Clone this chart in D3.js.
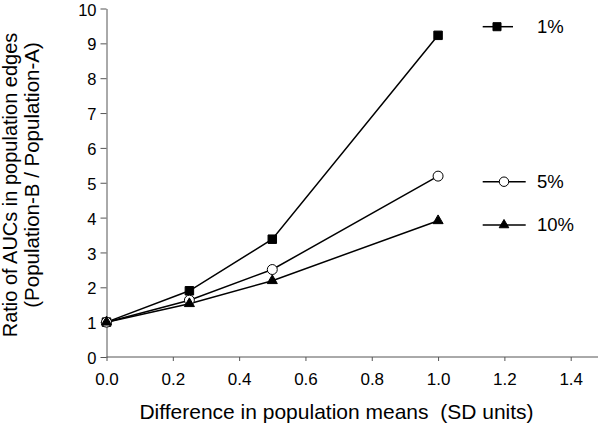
<!DOCTYPE html>
<html>
<head>
<meta charset="utf-8">
<script src="https://cdn.jsdelivr.net/npm/d3@7"></script>
<style>
  body { margin: 0; background: #fff; }
  svg { display: block; font-family: "Liberation Sans", Arial, sans-serif; }
</style>
</head>
<body>
<div id="chart"></div>
<script>
var xValues = [0, 0.25, 0.5, 1.0];
var series1 = [1, 1.9, 3.38, 9.23];   // 1%
var series5 = [1, 1.63, 2.51, 5.19];  // 5%
var series10 = [1, 1.53, 2.19, 3.91]; // 10%
var seriesNames = ["1%", "5%", "10%"];
var xTicks = [0, 0.2, 0.4, 0.6, 0.8, 1.0, 1.2, 1.4];
var yTicks = [0, 1, 2, 3, 4, 5, 6, 7, 8, 9, 10];

var width = 600, height = 425;
var svg = d3.select('#chart').append('svg').attr('width', width).attr('height', height);

var x = d3.scaleLinear().domain([0, 1.4]).range([106.5, 570.7]);
var y = d3.scaleLinear().domain([0, 10]).range([357, 8.5]);
var axisColor = "#555";

// x axis
var gx = svg.append('g').attr('transform', 'translate(0,' + y(0) + ')')
  .call(d3.axisBottom(x).tickValues(xTicks).tickFormat(d3.format('.1f')).tickSizeInner(4).tickSizeOuter(0).tickPadding(12));
gx.select('.domain').attr('d', 'M' + x(0) + ',0H598').attr('stroke', axisColor);
gx.selectAll('.tick line').attr('stroke', axisColor);
gx.selectAll('.tick text').attr('fill', '#000').style('font-size', '17px');

// y axis
var gy = svg.append('g').attr('transform', 'translate(' + x(0) + ',0)')
  .call(d3.axisLeft(y).tickValues(yTicks).tickSizeInner(6).tickSizeOuter(0).tickPadding(4));
gy.select('.domain').attr('stroke', axisColor);
gy.selectAll('.tick line').attr('stroke', axisColor);
gy.selectAll('.tick text').attr('fill', '#000').attr('dy', '0.4em').style('font-size', '16.5px');

// axis titles
svg.append('text').attr('x', 336.5).attr('y', 419).attr('text-anchor', 'middle')
  .style('font-size', '21px').text('Difference in population means\u00a0\u00a0(SD units)');
svg.append('text').attr('transform', 'translate(17,185) rotate(-90)').attr('text-anchor', 'middle')
  .style('font-size', '20px').text('Ratio of AUCs in population edges');
svg.append('text').attr('transform', 'translate(39,175) rotate(-90)').attr('text-anchor', 'middle')
  .style('font-size', '20.5px').text('(Population-B / Population-A)');

var line = d3.line().x(function(d) { return x(d[0]); }).y(function(d) { return y(d[1]); });
var allSeries = [series1, series5, series10];
var symbols = [d3.symbolSquare, d3.symbolCircle, d3.symbolTriangle];
var symSizes = [72, 78, 44];
var fills = ['#000', '#fff', '#000'];

allSeries.forEach(function(s, i) {
  var pts = xValues.map(function(v, j) { return [v, s[j]]; });
  svg.append('path').datum(pts).attr('d', line).attr('fill', 'none').attr('stroke', '#000').attr('stroke-width', 1.5);
});
allSeries.forEach(function(s, i) {
  var pts = xValues.map(function(v, j) { return [v, s[j]]; });
  svg.selectAll('.m' + i).data(pts).enter().append('path').attr('class', 'm' + i)
    .attr('transform', function(d) { return 'translate(' + x(d[0]) + ',' + y(d[1]) + ')'; })
    .attr('d', d3.symbol().type(symbols[i]).size(symSizes[i]))
    .attr('fill', fills[i]).attr('stroke', '#000').attr('stroke-width', 1);
});

// legend
var legY = [26.7, 181.7, 225];
var legX2 = [513, 525.7, 525.7];
var legM = [497, 504, 504];
seriesNames.forEach(function(name, i) {
  var g = svg.append('g');
  g.append('line').attr('x1', 482.7).attr('x2', legX2[i]).attr('y1', legY[i]).attr('y2', legY[i])
    .attr('stroke', '#000').attr('stroke-width', 1.5);
  g.append('path').attr('transform', 'translate(' + legM[i] + ',' + legY[i] + ')')
    .attr('d', d3.symbol().type(symbols[i]).size(symSizes[i] * 0.9))
    .attr('fill', fills[i]).attr('stroke', '#000').attr('stroke-width', 1);
  g.append('text').attr('x', 537).attr('y', legY[i]).attr('dy', '0.35em')
    .style('font-size', '18.5px').text(name);
});
</script>
</body>
</html>
